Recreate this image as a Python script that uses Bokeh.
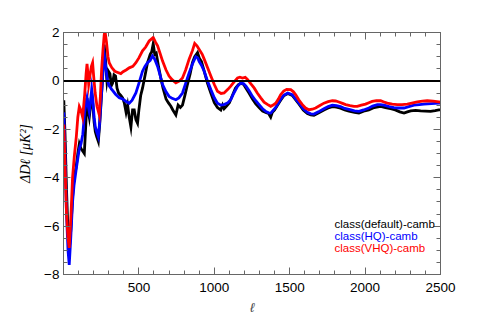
from bokeh.plotting import figure
from bokeh.models import Range1d, LinearAxis, Label, Span, FixedTicker
from bokeh.embed import file_html
from bokeh.resources import INLINE

# ---- data ----
ell_default = [2, 10, 20, 30, 38, 48, 60, 70, 83, 95, 105, 116, 127, 138, 148, 156, 163, 171, 180, 187,
               195, 203, 211, 220, 231, 240, 248, 258, 265, 270, 278, 288, 298, 308, 317, 325, 335, 345, 355, 365,
               380, 392, 403, 415, 425, 436, 447, 458, 469, 480, 491, 500, 512, 524, 540, 557, 575, 585, 595, 605,
               615, 630, 645, 660, 680, 695, 712, 725, 745, 760, 775, 789, 805, 820, 840, 855, 870, 889, 900, 915,
               933, 955, 977, 1000, 1021, 1043, 1055, 1065, 1080, 1100, 1120, 1140, 1160, 1176, 1195, 1210, 1230, 1253, 1275, 1297,
               1320, 1341, 1360, 1374, 1385, 1400, 1420, 1440, 1460, 1487, 1517, 1540, 1562, 1590, 1617, 1640, 1661, 1690, 1727, 1755,
               1783, 1810, 1837, 1865, 1893, 1930, 1959, 1990, 2025, 2060, 2103, 2135, 2169, 2200, 2230, 2258, 2280, 2302, 2335, 2368,
               2400, 2434, 2465, 2489, 2500]
d_default = [-0.8, -2.2, -4.5, -6.3, -7.0, -6.2, -4.8, -4.0, -3.6, -3.0, -2.6, -2.8, -2.9, -3.0, -1.8, -0.7, -1.2, -1.5, -1.0, -0.5,
             -1.0, -1.7, -2.1, -2.3, -2.5, -1.8, -1.0, 0.0, 0.9, 1.5, 0.9, 0.0, 0.4, 0.3, -0.2, -0.1, 0.25, 0.2, -0.3, -0.5,
             -0.6, -0.7, -0.9, -1.3, -1.0, -1.5, -1.9, -1.2, -1.2, -1.6, -1.75, -1.2, -0.6, -0.3, 0.2, 0.75, 1.1, 1.2, 1.53, 1.1,
             1.15, 0.6, 0.12, -0.3, -0.75, -0.9, -1.05, -1.2, -1.4, -1.0, -1.1, -1.0, -0.6, -0.2, 0.3, 0.75, 1.0, 1.17, 0.95, 0.8,
             0.4, -0.1, -0.5, -0.9, -1.1, -1.2, -1.0, -1.15, -1.05, -0.9, -0.6, -0.3, -0.15, -0.1, -0.15, -0.3, -0.5, -0.75, -0.95, -1.1,
             -1.25, -1.3, -1.35, -1.5, -1.3, -1.2, -1.0, -0.8, -0.62, -0.52, -0.6, -0.78, -0.96, -1.2, -1.35, -1.4, -1.42, -1.33, -1.2, -1.12,
             -1.06, -1.08, -1.13, -1.2, -1.25, -1.3, -1.33, -1.25, -1.2, -1.1, -1.05, -1.1, -1.15, -1.2, -1.28, -1.33, -1.28, -1.24, -1.22, -1.24,
             -1.25, -1.26, -1.23, -1.2, -1.2]

ell_hq = [2, 10, 20, 30, 38, 48, 60, 70, 83, 95, 105, 116, 128, 140, 150, 156, 163, 171, 180, 187,
          195, 203, 211, 220, 231, 240, 248, 258, 265, 270, 280, 292, 303, 320, 345, 370, 392, 415, 436, 455,
          480, 500, 524, 540, 557, 575, 590, 605, 624, 640, 657, 680, 700, 720, 745, 765, 789, 810, 833, 855,
          877, 890, 900, 915, 933, 955, 977, 1000, 1021, 1043, 1065, 1090, 1109, 1130, 1154, 1176, 1195, 1210, 1230, 1253,
          1275, 1297, 1320, 1341, 1360, 1374, 1390, 1407, 1425, 1440, 1460, 1487, 1517, 1540, 1562, 1590, 1617, 1640, 1661, 1690,
          1727, 1755, 1783, 1810, 1837, 1865, 1893, 1930, 1959, 1990, 2025, 2050, 2081, 2103, 2125, 2160, 2191, 2225, 2258, 2290,
          2324, 2360, 2390, 2440, 2489, 2500]
d_hq = [-1.3, -3.0, -5.5, -7.0, -7.6, -6.5, -5.0, -4.3, -3.7, -3.2, -2.8, -2.6, -2.2, -1.3, -0.9, -0.7, -1.0, -1.27, -0.8, -0.35,
        -0.8, -1.5, -1.9, -2.1, -2.3, -1.7, -0.9, 0.0, 0.8, 1.1, 0.6, 0.0, -0.2, -0.35, -0.55, -0.7, -0.75, -0.85, -0.92, -0.8,
        -0.5, -0.1, 0.4, 0.6, 0.75, 0.85, 1.03, 0.9, 0.6, 0.25, -0.15, -0.45, -0.64, -0.72, -0.78, -0.7, -0.5, -0.1, 0.33, 0.7,
        1.0, 0.95, 0.8, 0.65, 0.4, 0.0, -0.36, -0.7, -0.92, -1.0, -0.98, -0.9, -0.78, -0.5, -0.22, -0.08, -0.12, -0.22, -0.4, -0.64,
        -0.82, -0.98, -1.15, -1.26, -1.32, -1.33, -1.22, -1.1, -0.92, -0.75, -0.6, -0.5, -0.57, -0.75, -0.92, -1.15, -1.3, -1.36, -1.37, -1.28,
        -1.15, -1.06, -1.0, -1.02, -1.06, -1.14, -1.18, -1.24, -1.26, -1.2, -1.12, -1.04, -0.98, -0.98, -1.0, -1.06, -1.1, -1.12, -1.12, -1.06,
        -1.0, -0.98, -0.96, -0.94, -0.92, -0.92]

ell_vhq = [2, 10, 20, 30, 38, 50, 60, 72, 85, 95, 105, 115, 127, 140, 150, 156, 162, 167, 175, 185,
           193, 200, 210, 222, 237, 245, 253, 262, 270, 275, 285, 295, 303, 320, 340, 360, 380, 395, 415, 436,
           460, 480, 500, 524, 545, 568, 595, 610, 624, 640, 657, 680, 700, 720, 745, 770, 789, 810, 833, 855,
           870, 885, 900, 920, 933, 955, 977, 1000, 1021, 1045, 1065, 1090, 1109, 1130, 1154, 1170, 1187, 1205, 1220, 1240,
           1264, 1285, 1308, 1330, 1352, 1374, 1390, 1407, 1425, 1440, 1460, 1480, 1507, 1525, 1540, 1560, 1584, 1605, 1628, 1650,
           1672, 1700, 1727, 1755, 1783, 1805, 1826, 1850, 1871, 1900, 1926, 1948, 1975, 2003, 2025, 2047, 2075, 2103, 2125, 2147,
           2180, 2213, 2245, 2280, 2310, 2346, 2380, 2412, 2450, 2489, 2500]
d_vhq = [-1.8, -3.5, -5.5, -6.5, -6.9, -5.5, -4.0, -3.1, -2.3, -1.5, -1.06, -1.2, -1.5, -0.6, 0.3, 0.7, 0.3, -0.14, 0.2, 0.6,
         0.75, 0.2, -0.5, -1.05, -1.4, -0.6, 0.5, 1.3, 1.9, 2.07, 1.6, 1.0, 0.75, 0.55, 0.4, 0.35, 0.3, 0.38, 0.45, 0.54,
         0.6, 0.75, 0.95, 1.24, 1.4, 1.65, 1.79, 1.6, 1.45, 1.15, 0.82, 0.45, 0.2, 0.05, -0.08, 0.0, 0.12, 0.45, 0.9, 1.25,
         1.55, 1.45, 1.3, 1.1, 0.9, 0.55, 0.2, -0.15, -0.43, -0.52, -0.5, -0.35, -0.22, -0.05, 0.12, 0.15, 0.12, 0.15, 0.06, -0.1,
         -0.29, -0.5, -0.7, -0.88, -0.97, -1.05, -1.0, -0.92, -0.75, -0.57, -0.42, -0.35, -0.36, -0.45, -0.57, -0.78, -0.98, -1.12, -1.19, -1.17,
         -1.12, -1.02, -0.92, -0.86, -0.82, -0.83, -0.87, -0.93, -0.98, -1.02, -1.05, -1.05, -1.0, -0.96, -0.9, -0.85, -0.82, -0.82, -0.87, -0.92,
         -0.96, -0.98, -0.98, -0.96, -0.92, -0.87, -0.84, -0.82, -0.84, -0.87, -0.88]

series_labels = ["class(default)-camb", "class(HQ)-camb", "class(VHQ)-camb"]
series_colors = ["black", "#0000ff", "#ff0000"]
x_ticks = [500, 1000, 1500, 2000, 2500]
y_ticks = [-8, -6, -4, -2, 0, 2]

FRAME = "#666666"

p = figure(width=480, height=322, output_backend="svg", toolbar_location=None,
           x_range=Range1d(0, 2500), y_range=Range1d(-8, 2),
           min_border_left=63, min_border_right=40, min_border_top=32, min_border_bottom=48,
           x_axis_label="ℓ", y_axis_label="ΔDℓ [μK²]")
p.grid.visible = False
p.outline_line_color = FRAME
p.background_fill_color = "white"
p.border_fill_color = "white"

def style_axis(ax, ticks, minor, show_labels):
    ax.ticker = FixedTicker(ticks=ticks, minor_ticks=minor)
    ax.axis_line_color = FRAME
    ax.major_tick_line_color = FRAME
    ax.minor_tick_line_color = FRAME
    ax.major_tick_in = 7
    ax.major_tick_out = 0
    ax.minor_tick_in = 4
    ax.minor_tick_out = 0
    if show_labels:
        ax.major_label_text_font = "Liberation Sans"
        ax.major_label_text_font_size = "13.5px"
        ax.major_label_text_color = "black"
    else:
        ax.major_label_text_font_size = "0px"
        ax.major_label_text_color = None

x_minor = list(range(0, 2600, 100))
y_minor = [v / 2 for v in range(-16, 5)]

style_axis(p.xaxis[0], x_ticks, x_minor, True)
style_axis(p.yaxis[0], y_ticks, y_minor, True)
p.xaxis[0].major_label_standoff = 8
p.yaxis[0].major_label_standoff = 4

for ax, side, ticks, minor in [(LinearAxis(), "above", x_ticks, x_minor), (LinearAxis(), "right", y_ticks, y_minor)]:
    style_axis(ax, ticks, minor, False)
    ax.major_label_standoff = 0
    p.add_layout(ax, side)

for ax in (p.xaxis[0], p.yaxis[0]):
    ax.axis_label_text_font = "Liberation Serif"
    ax.axis_label_text_font_style = "italic"
    ax.axis_label_text_font_size = "14px"
    ax.axis_label_text_color = "black"
p.xaxis[0].axis_label_standoff = 6
p.yaxis[0].axis_label_standoff = 8

p.add_layout(Span(location=0, dimension="width", line_color="black", line_width=2))

for xs, ys, col in [(ell_default, d_default, series_colors[0]),
                    (ell_hq, d_hq, series_colors[1]),
                    (ell_vhq, d_vhq, series_colors[2])]:
    p.line(xs, ys, line_color=col, line_width=2.8, line_join="miter")

for i, (lab, col) in enumerate(zip(series_labels, series_colors)):
    p.add_layout(Label(x=271, y=51 - 12 * i, x_units="screen", y_units="screen",
                       text=lab, text_color=col, text_font="Liberation Sans",
                       text_font_size="11.5px", text_baseline="middle"))

open("out.html", "w").write(file_html(p, INLINE))
